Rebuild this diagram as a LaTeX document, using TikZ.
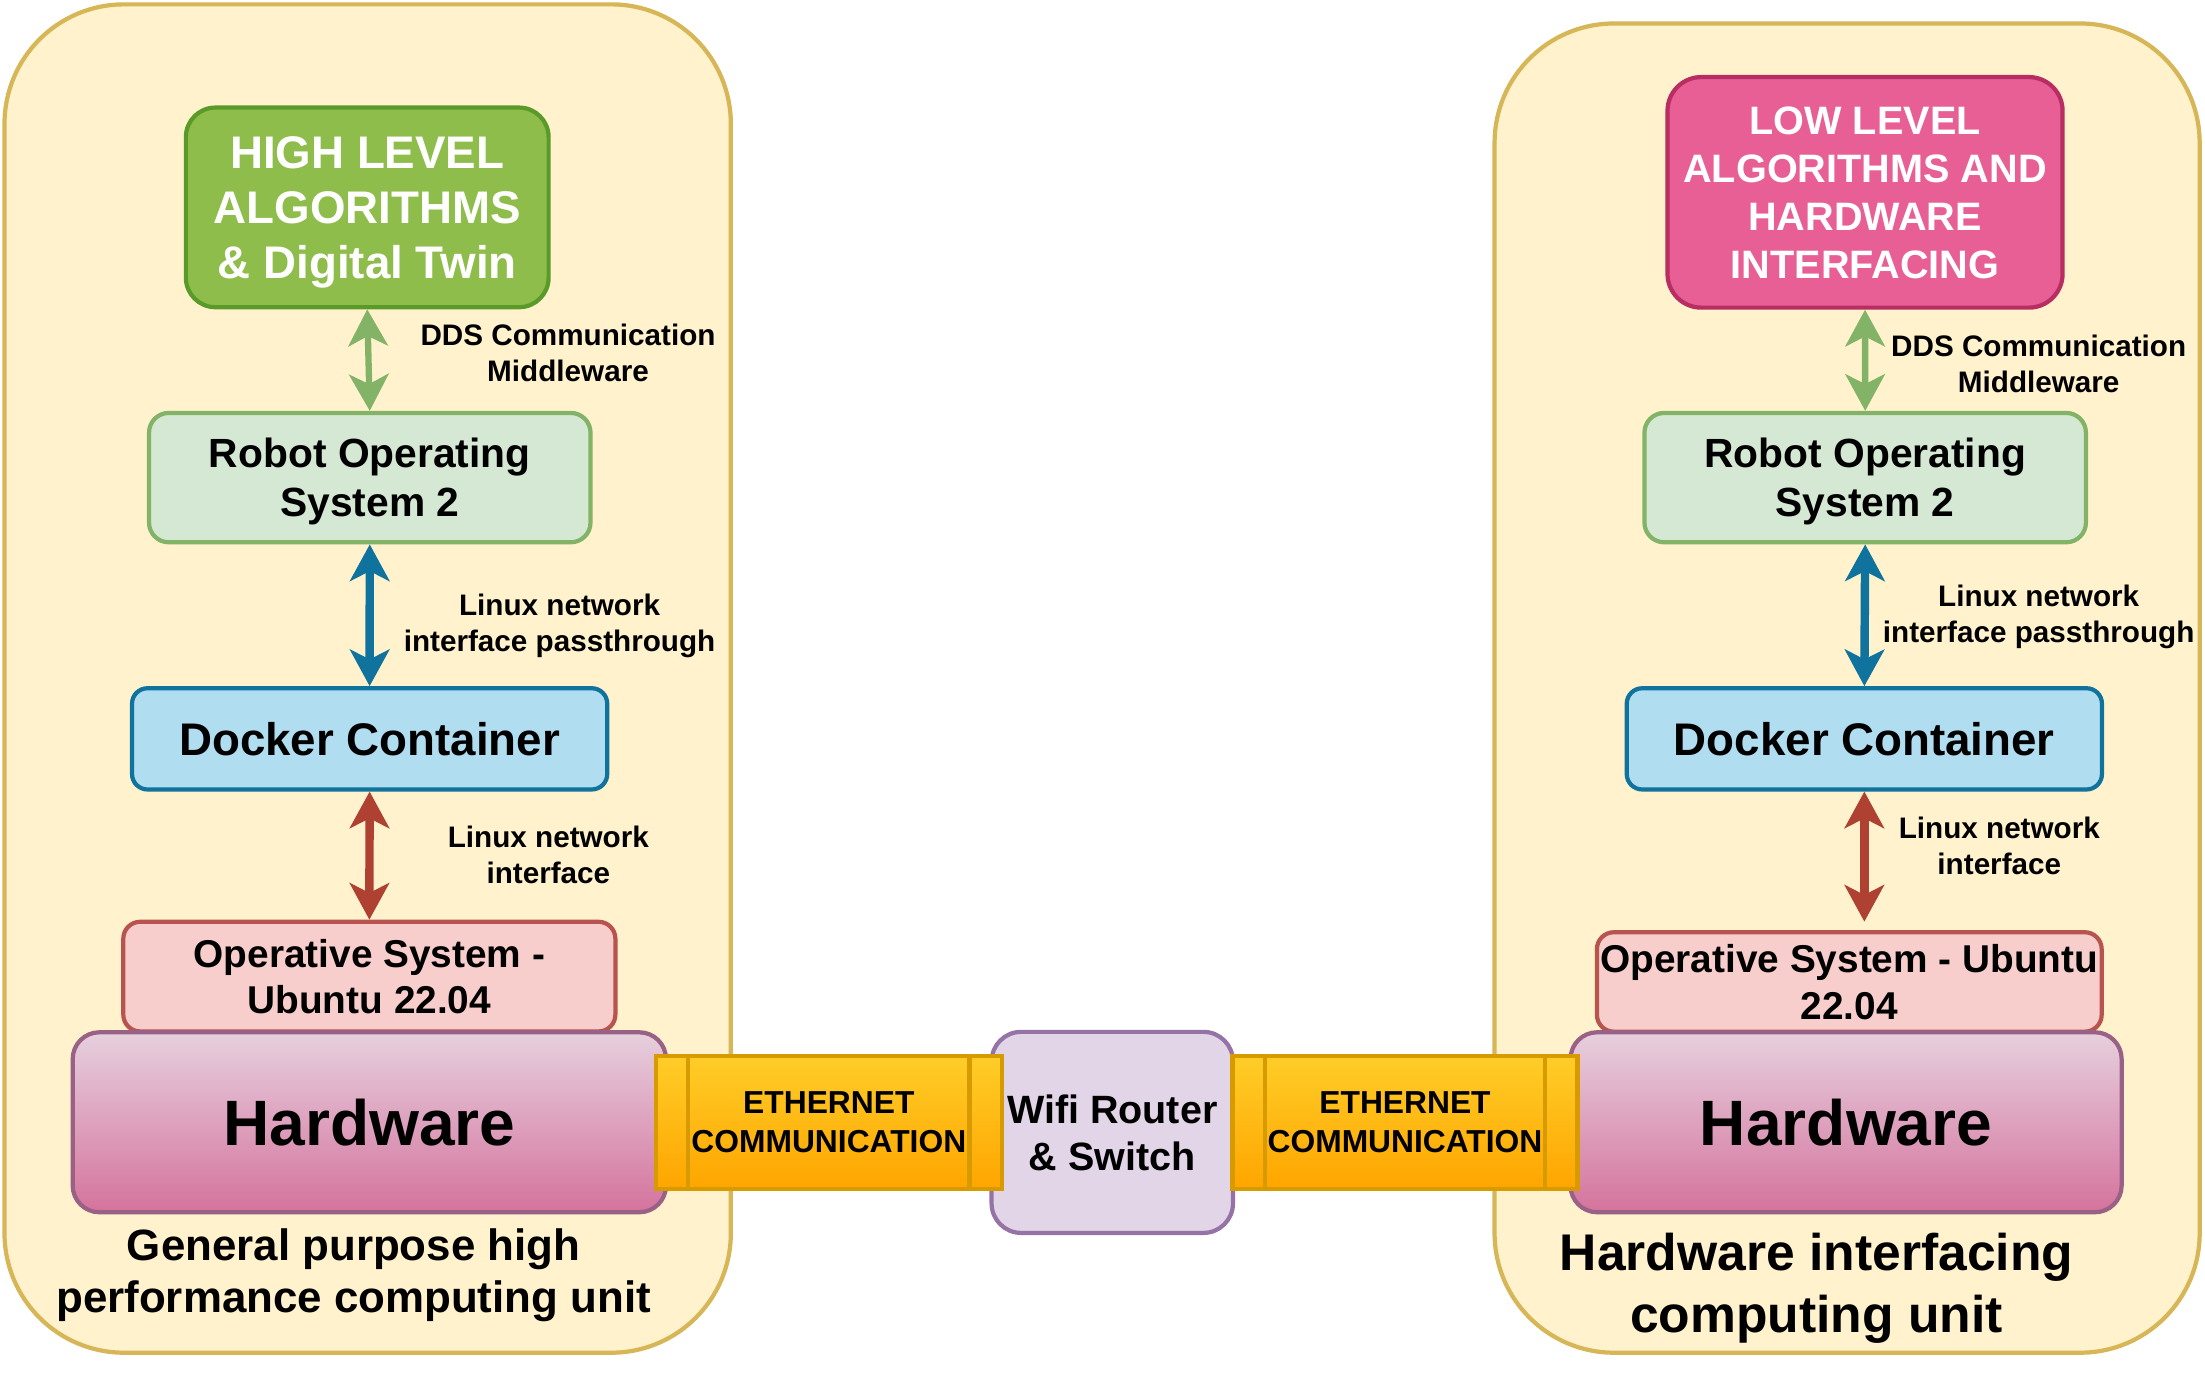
\documentclass[tikz,border=0pt]{standalone}
\usepackage{fontspec}
\setmainfont{Liberation Sans}
\usetikzlibrary{arrows.meta}
\definecolor{contF}{HTML}{FFF2CC}
\definecolor{contS}{HTML}{D6B656}
\definecolor{hlF}{HTML}{8FBD4C}
\definecolor{hlS}{HTML}{5A9A28}
\definecolor{pkF}{HTML}{E75F95}
\definecolor{pkS}{HTML}{B82D62}
\definecolor{rosF}{HTML}{D5E8D4}
\definecolor{rosS}{HTML}{82B366}
\definecolor{dkF}{HTML}{B1DDF0}
\definecolor{dkS}{HTML}{10739E}
\definecolor{osF}{HTML}{F8CECC}
\definecolor{osS}{HTML}{B85450}
\definecolor{hwT}{HTML}{E6D0DE}
\definecolor{hwB}{HTML}{D5739D}
\definecolor{hwS}{HTML}{996185}
\definecolor{ethT}{HTML}{FFCD28}
\definecolor{ethB}{HTML}{FFA500}
\definecolor{ethS}{HTML}{D79B00}
\definecolor{wfF}{HTML}{E1D5E7}
\definecolor{wfS}{HTML}{9673A6}
\definecolor{gA}{HTML}{82B366}
\definecolor{bA}{HTML}{10739E}
\definecolor{rA}{HTML}{AE4132}
\tikzset{
  box/.style={draw, line width=3pt, inner sep=0pt, align=center, text depth=0pt},
  contbox/.style={box, draw=contS, fill=contF, rounded corners=85pt},
  hlbox/.style={box, draw=hlS, fill=hlF, text=white, rounded corners=21pt,
     font={\fontsize{32.5}{39.3}\selectfont\bfseries}},
  pkbox/.style={box, draw=pkS, fill=pkF, text=white, rounded corners=24pt,
     font={\fontsize{28.2}{34.1}\selectfont\bfseries}},
  rosbox/.style={box, draw=rosS, fill=rosF, rounded corners=14pt,
     font={\fontsize{29}{34.7}\selectfont\bfseries}},
  dkbox/.style={box, draw=dkS, fill=dkF, rounded corners=11pt,
     font={\fontsize{32.5}{39}\selectfont\bfseries}},
  osbox/.style={box, draw=osS, fill=osF, rounded corners=12pt,
     font={\fontsize{27.6}{33}\selectfont\bfseries}},
  hwbox/.style={box, draw=hwS, top color=hwT, bottom color=hwB, rounded corners=19pt,
     font={\fontsize{45.6}{54}\selectfont\bfseries}},
  ethbox/.style={box, draw=ethS, top color=ethT, bottom color=ethB,
     font={\fontsize{22.6}{27.7}\selectfont\bfseries}},
  ethline/.style={draw=ethS, line width=3pt},
  wfbox/.style={box, draw=wfS, fill=wfF, rounded corners=21pt,
     font={\fontsize{28.1}{33.5}\selectfont\bfseries}},
  lbl/.style={align=center, inner sep=0pt, text depth=0pt, font={\fontsize{21.1}{25.6}\selectfont\bfseries}},
  capA/.style={align=center, inner sep=0pt, text depth=0pt, font={\fontsize{31.2}{37}\selectfont\bfseries}},
  capB/.style={align=center, inner sep=0pt, text depth=0pt, font={\fontsize{36.7}{43.8}\selectfont\bfseries}},
  tipA/.tip={Stealth[length=26pt,width=28pt,inset=7pt]},
  garrow/.style={draw=gA, line width=4.5pt, tipA-tipA},
  barrow/.style={draw=bA, line width=6pt, tipA-tipA},
  rarrow/.style={draw=rA, line width=6pt, tipA-tipA},
}
\begin{document}
\begin{tikzpicture}[x=1pt,y=-1pt]
\useasboundingbox (0,0) rectangle (1568.3,990.7);
% containers
\node[contbox, minimum width=516.6pt, minimum height=959pt] (lc) at (261.5,482.6) {};
\node[contbox, minimum width=501.5pt, minimum height=945.4pt] (rc) at (1313.75,489.4) {};
% left column
\node[hlbox, minimum width=258pt, minimum height=142pt] (hl) at (261.2,147.5) {HIGH LEVEL\\ALGORITHMS\\\& Digital Twin};
\node[rosbox, minimum width=314pt, minimum height=92pt] (ros1) at (263,339.7) {Robot Operating\\System 2};
\node[dkbox, minimum width=338pt, minimum height=72pt] (dk1) at (262.9,525.5) {Docker Container};
\node[osbox, minimum width=350pt, minimum height=78pt] (os1) at (262.7,694.6) {Operative System -\\Ubuntu 22.04};
\node[hwbox, minimum width=422pt, minimum height=128pt] (hw1) at (262.7,798.2) {Hardware};
% right column
\node[pkbox, minimum width=281pt, minimum height=164pt] (pk) at (1326.5,136.8) {LOW LEVEL\\ALGORITHMS AND\\HARDWARE\\INTERFACING};
\node[rosbox, minimum width=314pt, minimum height=92pt] (ros2) at (1326.6,339.7) {Robot Operating\\System 2};
\node[dkbox, minimum width=338pt, minimum height=72pt] (dk2) at (1326,525.5) {Docker Container};
\node[osbox, minimum width=359pt, minimum height=70.7pt] (os2) at (1315.3,698.4) {Operative System - Ubuntu\\22.04};
\node[hwbox, minimum width=392pt, minimum height=128pt] (hw2) at (1313,798.2) {Hardware};
% network
\node[wfbox, minimum width=171.7pt, minimum height=143pt] (wf) at (791.1,805.4) {Wifi Router\\\& Switch};
\node[ethbox, minimum width=246pt, minimum height=94.5pt] (eth1) at (589.5,798.3) {ETHERNET\\COMMUNICATION};
\draw[ethline] ([xshift=24.5pt]eth1.north west) -- ([xshift=24.5pt]eth1.south west);
\draw[ethline] ([xshift=-24.5pt]eth1.north east) -- ([xshift=-24.5pt]eth1.south east);
\node[ethbox, minimum width=245.4pt, minimum height=94.5pt] (eth2) at (999.3,798.3) {ETHERNET\\COMMUNICATION};
\draw[ethline] ([xshift=24.5pt]eth2.north west) -- ([xshift=24.5pt]eth2.south west);
\draw[ethline] ([xshift=-24.5pt]eth2.north east) -- ([xshift=-24.5pt]eth2.south east);
% labels
\node[lbl] (dds1) at (404,250.8) {DDS Communication\\Middleware};
\node[lbl] (lnp1) at (398,442.8) {Linux network\\interface passthrough};
\node[lbl] (lni1) at (390,608) {Linux network\\interface};
\node[lbl] (dds2) at (1450,258.8) {DDS Communication\\Middleware};
\node[lbl] (lnp2) at (1450,436.3) {Linux network\\interface passthrough};
\node[lbl] (lni2) at (1422,601.3) {Linux network\\interface};
\node[capA] (cap1) at (251.5,904) {General purpose high\\performance computing unit};
\node[capB] (cap2) at (1292,912.4) {Hardware interfacing\\computing unit};
% arrows
\coordinate (r2end) at (1326,655.5);
\draw[garrow] (hl.south) -- (ros1.north);
\draw[barrow] (ros1.south) -- (dk1.north);
\draw[rarrow] (dk1.south) -- (os1.north);
\draw[garrow] (pk.south) -- (ros2.north);
\draw[barrow] (ros2.south) -- (dk2.north);
\draw[rarrow] (dk2.south) -- (r2end);
\end{tikzpicture}
\end{document}
